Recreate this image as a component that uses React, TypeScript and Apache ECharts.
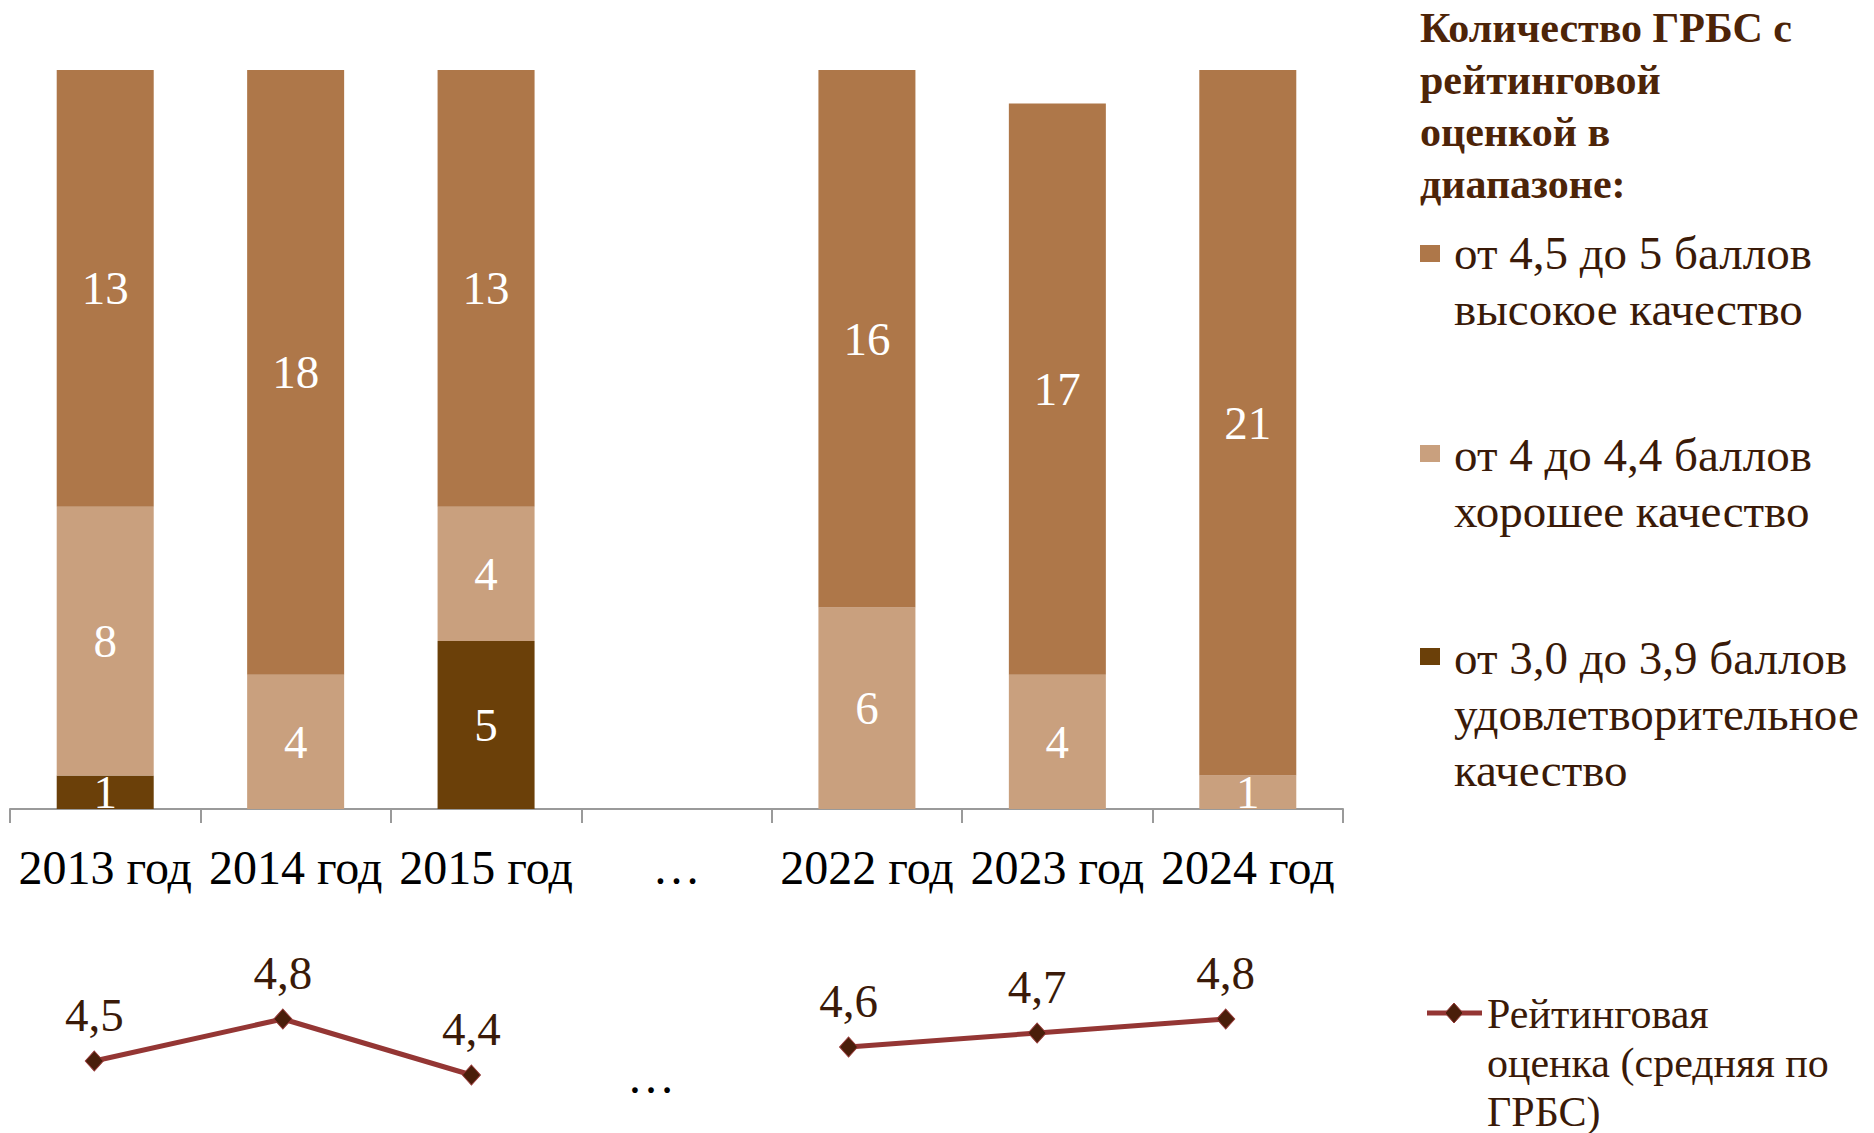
import React, { useEffect, useRef } from "react";
import * as echarts from "echarts";

const categories = ["2013 год", "2014 год", "2015 год", "…", "2022 год", "2023 год", "2024 год"];
const highQuality = [13, 18, 13, null, 16, 17, 21];
const goodQuality = [8, 4, 4, null, 6, 4, 1];
const satisfactory = [1, null, 5, null, null, null, null];
const avgRating = [4.5, 4.8, 4.4, null, 4.6, 4.7, 4.8];

const legendTitle = "Количество ГРБС с\nрейтинговой\nоценкой в\nдиапазоне:";
const legendHigh = "от 4,5 до 5 баллов\nвысокое качество";
const legendGood = "от 4 до 4,4 баллов\nхорошее качество";
const legendSat = "от 3,0 до 3,9 баллов\nудовлетворительное\nкачество";
const legendLine = "Рейтинговая\nоценка (средняя по\nГРБС)";

const FONT = "'Liberation Serif', 'Times New Roman', serif";
const C_HIGH = "#ae7749";
const C_GOOD = "#c9a07e";
const C_SAT = "#6b4009";
const C_LINE = "#943634";
const C_MARK = "#4a1e0a";
const C_TEXT = "#3a1a08";

export default function App() {
  const ref = useRef<HTMLDivElement>(null);
  useEffect(() => {
    if (!ref.current) return;
    const chart = echarts.init(ref.current, undefined, { renderer: "svg" });
    const barLabel = {
      show: true,
      position: "inside",
      color: "#ffffff",
      fontSize: 47,
      fontFamily: FONT,
    };
    chart.setOption({
      animation: false,
      textStyle: { fontFamily: FONT },
      grid: [
        { left: 10, width: 1333, top: 70, height: 739, containLabel: false },
        { left: -3, width: 1323, top: 991, height: 140, containLabel: false },
      ],
      xAxis: [
        {
          type: "category",
          gridIndex: 0,
          data: categories,
          axisLine: { show: true, lineStyle: { color: "#9a9a9a", width: 2 } },
          axisTick: { show: true, length: 14, lineStyle: { color: "#9a9a9a", width: 2 } },
          axisLabel: { fontSize: 48, color: "#000000", fontFamily: FONT, margin: 34, interval: 0 },
        },
        {
          type: "category",
          gridIndex: 1,
          data: categories,
          show: false,
        },
      ],
      yAxis: [
        { type: "value", gridIndex: 0, min: 0, max: 22, show: false },
        { type: "value", gridIndex: 1, min: 4, max: 5, show: false },
      ],
      series: [
        {
          name: "от 3,0 до 3,9 баллов",
          type: "bar",
          stack: "total",
          xAxisIndex: 0,
          yAxisIndex: 0,
          data: satisfactory,
          barWidth: 97,
          itemStyle: { color: C_SAT },
          label: barLabel,
        },
        {
          name: "от 4 до 4,4 баллов",
          type: "bar",
          stack: "total",
          xAxisIndex: 0,
          yAxisIndex: 0,
          data: goodQuality,
          barWidth: 97,
          itemStyle: { color: C_GOOD },
          label: barLabel,
        },
        {
          name: "от 4,5 до 5 баллов",
          type: "bar",
          stack: "total",
          xAxisIndex: 0,
          yAxisIndex: 0,
          data: highQuality,
          barWidth: 97,
          itemStyle: { color: C_HIGH },
          label: barLabel,
        },
        {
          name: "Рейтинговая оценка (средняя по ГРБС)",
          type: "line",
          xAxisIndex: 1,
          yAxisIndex: 1,
          data: avgRating,
          symbol: "diamond",
          symbolSize: [18, 20],
          lineStyle: { color: C_LINE, width: 5 },
          itemStyle: { color: C_MARK, borderColor: C_LINE, borderWidth: 1 },
          label: {
            show: true,
            position: "top",
            distance: 12,
            fontSize: 47,
            fontFamily: FONT,
            color: C_TEXT,
            formatter: (p: any) => String(p.value).replace(".", ","),
          },
        },
      ],
      graphic: [
        {
          type: "text",
          x: 651,
          y: 1076,
          style: { text: "…", fontSize: 48, fontFamily: FONT, fill: "#000000", align: "center", verticalAlign: "middle" },
        },
        {
          type: "text",
          x: 1420,
          y: 2,
          style: { text: legendTitle, fontSize: 42, fontWeight: "bold", fontFamily: FONT, fill: "#4d2408", lineHeight: 52, verticalAlign: "top" },
        },
        { type: "rect", shape: { x: 1420, y: 245, width: 20, height: 17 }, style: { fill: C_HIGH } },
        {
          type: "text",
          x: 1454,
          y: 225,
          style: { text: legendHigh, fontSize: 47, fontFamily: FONT, fill: C_TEXT, lineHeight: 56, verticalAlign: "top" },
        },
        { type: "rect", shape: { x: 1420, y: 445, width: 20, height: 17 }, style: { fill: C_GOOD } },
        {
          type: "text",
          x: 1454,
          y: 427,
          style: { text: legendGood, fontSize: 47, fontFamily: FONT, fill: C_TEXT, lineHeight: 56, verticalAlign: "top" },
        },
        { type: "rect", shape: { x: 1420, y: 648, width: 20, height: 17 }, style: { fill: C_SAT } },
        {
          type: "text",
          x: 1454,
          y: 630,
          style: { text: legendSat, fontSize: 47, fontFamily: FONT, fill: C_TEXT, lineHeight: 56, verticalAlign: "top" },
        },
        {
          type: "line",
          shape: { x1: 1427, y1: 1013, x2: 1482, y2: 1013 },
          style: { stroke: C_LINE, lineWidth: 5 },
        },
        {
          type: "polygon",
          shape: { points: [[1454, 1003], [1463, 1013], [1454, 1023], [1445, 1013]] },
          style: { fill: C_MARK, stroke: C_LINE, lineWidth: 1 },
        },
        {
          type: "text",
          x: 1487,
          y: 989,
          style: { text: legendLine, fontSize: 42, fontFamily: FONT, fill: C_TEXT, lineHeight: 49, verticalAlign: "top" },
        },
      ],
    });
    return () => chart.dispose();
  }, []);
  return (
    <div
      ref={ref}
      style={{ position: "absolute", left: 0, top: 0, width: 1874, height: 1133, background: "#ffffff" }}
    />
  );
}
